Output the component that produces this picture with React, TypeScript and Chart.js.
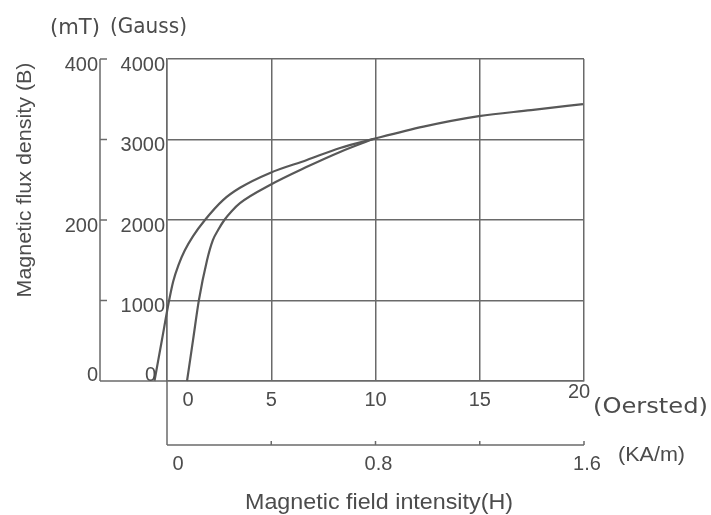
import React, { useEffect, useRef } from "react";
import { Chart, registerables } from "chart.js";

Chart.register(...registerables);

// ---- data ----
const oerstedTicks = [0, 5, 10, 15, 20];
const gaussTicks = [0, 1000, 2000, 3000, 4000];
const mTTicks = [0, 100, 200, 300, 400];
const mTLabelValues = [0, 200, 400];
const kAmTicks = [0, 0.4, 0.8, 1.2, 1.6];
const kAmLabelValues = [0, 0.8, 1.6];

// curve 1 (left branch), H in Oersted, B in Gauss
const curve1H = [-0.6, -0.25, 0.1, 0.3, 0.55, 0.85, 1.25, 1.82, 2.7, 3.5, 4.94, 6.71, 8.3, 9.88, 12.3, 14.96, 17.46, 19.95];
const curve1B = [0, 500, 1000, 1240, 1440, 1620, 1800, 2000, 2250, 2400, 2585, 2745, 2895, 3005, 3160, 3290, 3365, 3440];
// curve 2 (right branch)
const curve2H = [0.96, 1.25, 1.53, 1.92, 2.2, 2.45, 2.75, 3.1, 3.5, 4.94, 6.71, 8.3, 9.88];
const curve2B = [0, 510, 1005, 1500, 1750, 1875, 2000, 2110, 2210, 2435, 2660, 2845, 3005];

const LINE = "#6a6a6a";
const CURVE = "#585858";
const TEXT = "#4c4c4c";

function txt(
  ctx: CanvasRenderingContext2D,
  s: string,
  x: number,
  y: number,
  font: string,
  align: CanvasTextAlign,
  w?: number,
  rot?: number
) {
  ctx.save();
  ctx.font = font;
  ctx.fillStyle = TEXT;
  ctx.textBaseline = "middle";
  ctx.textAlign = align;
  ctx.translate(x, y);
  if (rot) ctx.rotate(rot);
  if (w) {
    const m = ctx.measureText(s).width;
    ctx.scale(w / m, 1);
  }
  ctx.fillText(s, 0, 0);
  ctx.restore();
}

function seg(ctx: CanvasRenderingContext2D, x1: number, y1: number, x2: number, y2: number) {
  ctx.beginPath();
  ctx.moveTo(x1, y1);
  ctx.lineTo(x2, y2);
  ctx.stroke();
}

const decor = {
  id: "decor",
  afterDraw(chart: any) {
    const { ctx, chartArea: ca, scales } = chart;
    const x = scales.x, y = scales.y, y2 = scales.y2, x2 = scales.x2;
    const numFont = "20px 'Liberation Sans', Arial, sans-serif";
    ctx.save();
    ctx.strokeStyle = LINE;
    ctx.lineWidth = 1.5;

    // mT axis (outer left)
    const axX = ca.left - 67;
    seg(ctx, axX, y2.getPixelForValue(400), axX, y2.getPixelForValue(0));
    seg(ctx, axX, ca.bottom, ca.left, ca.bottom);
    mTTicks.forEach((v) => {
      if (v === 0) return;
      const p = y2.getPixelForValue(v);
      seg(ctx, axX, p, axX + 7, p);
    });
    mTLabelValues.forEach((v) => {
      const p = y2.getPixelForValue(v);
      txt(ctx, String(v), axX - 2, p + (v === 0 ? -6 : 6), numFont, "right");
    });

    // Gauss labels
    gaussTicks.forEach((v) => {
      const p = y.getPixelForValue(v);
      txt(ctx, String(v), ca.left - (v === 0 ? 11 : 2), p + (v === 0 ? -6 : 6), numFont, "right");
    });

    // Oersted labels
    oerstedTicks.forEach((v) => {
      const p = x.getPixelForValue(v);
      const dx = v === 0 ? 21 : v === 20 ? -5 : 0;
      const dy = v === 20 ? 11 : 19;
      txt(ctx, String(v), p + dx, ca.bottom + dy, numFont, "center");
    });
    txt(ctx, "(Oersted)", 593, 407, "22px 'DejaVu Sans', sans-serif", "left", 115);

    // kA/m axis (lower)
    const axY = ca.bottom + 64;
    seg(ctx, ca.left, ca.bottom, ca.left, axY);
    seg(ctx, x2.getPixelForValue(0), axY, x2.getPixelForValue(1.6), axY);
    kAmTicks.forEach((v) => {
      if (v === 0) return;
      const p = x2.getPixelForValue(v);
      seg(ctx, p, axY, p, axY - 4);
    });
    kAmLabelValues.forEach((v) => {
      const p = x2.getPixelForValue(v);
      txt(ctx, v === 0 ? "0" : v.toFixed(1), p + (v === 0 ? 11 : 3), axY + 19, numFont, "center");
    });
    txt(ctx, "(KA/m)", 618, 455, "21px 'Liberation Sans', Arial, sans-serif", "left", 67);

    // unit labels and titles
    txt(ctx, "(mT)", 50, 29, "21px 'DejaVu Sans', sans-serif", "left", 50);
    txt(ctx, "(Gauss)", 110, 28, "21px 'DejaVu Sans', sans-serif", "left", 77);
    txt(ctx, "Magnetic flux density (B)", 25, 180, "21px 'Liberation Sans', Arial, sans-serif", "center", 235, -Math.PI / 2);
    txt(ctx, "Magnetic field intensity(H)", 379, 503, "22px 'Liberation Sans', Arial, sans-serif", "center", 268);
    ctx.restore();
  },
};

export default function App() {
  const ref = useRef<HTMLCanvasElement | null>(null);
  useEffect(() => {
    if (!ref.current) return;
    const mk = (hs: number[], bs: number[]) => hs.map((h, i) => ({ x: h, y: bs[i] }));
    const ds = (data: any[]) => ({
      data,
      borderColor: CURVE,
      borderWidth: 2.2,
      pointRadius: 0,
      fill: false,
      clip: false as any,
      cubicInterpolationMode: "monotone" as const,
    });
    const chart = new Chart(ref.current, {
      type: "line",
      data: { datasets: [ds(mk(curve1H, curve1B)), ds(mk(curve2H, curve2B))] },
      plugins: [decor],
      options: {
        animation: false,
        responsive: false,
        devicePixelRatio: 1,
        events: [],
        layout: { padding: { left: 167, top: 59, right: 127, bottom: 134 } },
        plugins: { legend: { display: false }, tooltip: { enabled: false } },
        scales: {
          x: {
            type: "linear",
            afterDataLimits: (s: any) => {
              s.min = oerstedTicks[0];
              s.max = oerstedTicks[oerstedTicks.length - 1];
            },
            afterBuildTicks: (s: any) => {
              s.ticks = oerstedTicks.map((v) => ({ value: v }));
            },
            ticks: { display: false },
            grid: { color: LINE, lineWidth: 1.5, drawTicks: false },
            border: { color: LINE, width: 1.5 },
          },
          y: {
            type: "linear",
            min: 0,
            max: 4000,
            afterBuildTicks: (s: any) => {
              s.ticks = gaussTicks.map((v) => ({ value: v }));
            },
            ticks: { display: false },
            grid: { color: LINE, lineWidth: 1.5, drawTicks: false },
            border: { color: LINE, width: 1.5 },
          },
          y2: { type: "linear", display: false, position: "left", min: 0, max: 400 },
          x2: { type: "linear", display: false, position: "bottom", min: 0, max: 1.6 },
        },
      },
    });
    return () => chart.destroy();
  }, []);
  return (
    <div style={{ position: "fixed", left: 0, top: 0, width: 711, height: 515, background: "#fff" }}>
      <canvas ref={ref} width={711} height={515} />
    </div>
  );
}
